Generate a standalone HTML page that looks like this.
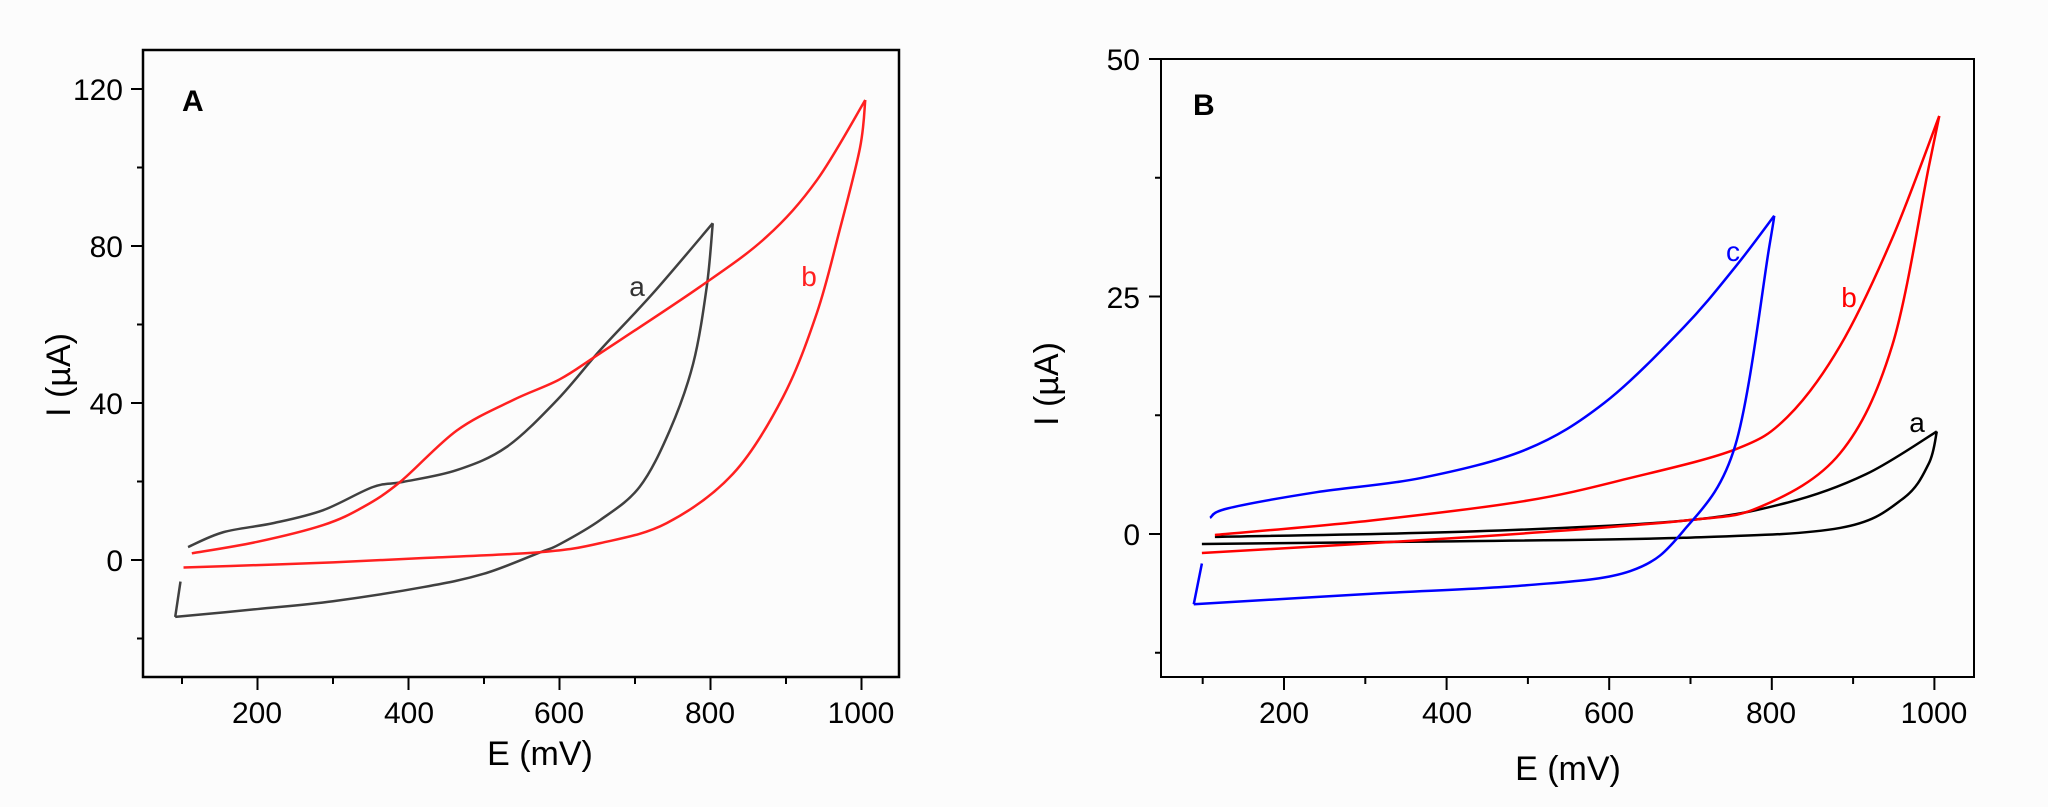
<!DOCTYPE html>
<html><head><meta charset="utf-8"><style>
html,body{margin:0;padding:0;background:#fcfcfc;}
svg{display:block;font-family:"Liberation Sans",Arial,sans-serif;}
</style></head><body>
<svg id="s" width="2048" height="807" viewBox="0 0 2048 807" xmlns="http://www.w3.org/2000/svg">
<rect width="2048" height="807" fill="#fcfcfc"/>
<g id="g"></g>
<rect x="143" y="50" width="756" height="627" fill="none" stroke="#000" stroke-width="2.5"/>
<rect x="1161" y="59" width="813" height="618" fill="none" stroke="#000" stroke-width="2"/>
<g font-size="30" fill="#000">
<text x="123" y="100" text-anchor="end">120</text>
<text x="123" y="257" text-anchor="end">80</text>
<text x="123" y="414" text-anchor="end">40</text>
<text x="123" y="571" text-anchor="end">0</text>
<text x="257" y="723" text-anchor="middle">200</text>
<text x="409" y="723" text-anchor="middle">400</text>
<text x="559" y="723" text-anchor="middle">600</text>
<text x="710" y="723" text-anchor="middle">800</text>
<text x="861" y="723" text-anchor="middle">1000</text>
<text x="1140" y="70" text-anchor="end">50</text>
<text x="1140" y="308" text-anchor="end">25</text>
<text x="1140" y="545" text-anchor="end">0</text>
<text x="1284" y="723" text-anchor="middle">200</text>
<text x="1447" y="723" text-anchor="middle">400</text>
<text x="1609" y="723" text-anchor="middle">600</text>
<text x="1771" y="723" text-anchor="middle">800</text>
<text x="1934" y="723" text-anchor="middle">1000</text>
</g>
<g font-size="34">
<text x="540" y="765" text-anchor="middle">E (mV)</text>
<text x="1568" y="780" text-anchor="middle">E (mV)</text>
<text transform="translate(70,375) rotate(-90)" text-anchor="middle">I (µA)</text>
<text transform="translate(1058,384) rotate(-90)" text-anchor="middle">I (µA)</text>
</g>
<g font-size="30" font-weight="bold">
<text x="182" y="111">A</text>
<text x="1193" y="115">B</text>
</g>
<g font-size="28">
<text x="637" y="296" text-anchor="middle" fill="#333">a</text>
<text x="809" y="286" text-anchor="middle" fill="#ff2020">b</text>
<text x="1733" y="261" text-anchor="middle" fill="#0000ff">c</text>
<text x="1849" y="307" text-anchor="middle" fill="#ff0000">b</text>
<text x="1917" y="432" text-anchor="middle" fill="#000">a</text>
</g>
</svg>
<script>
var NS="http://www.w3.org/2000/svg",g=document.getElementById("g");
function line(x1,y1,x2,y2,w){var l=document.createElementNS(NS,"line");l.setAttribute("x1",x1);l.setAttribute("y1",y1);l.setAttribute("x2",x2);l.setAttribute("y2",y2);l.setAttribute("stroke","#000");l.setAttribute("stroke-width",w||2);g.appendChild(l);}
var ax=function(E){return 106.5+0.755*E},ay=function(I){return 560-3.925*I};
for(var E=100;E<=1000;E+=100){var x=ax(E);line(x,677,x,677+(E%200==0?13:7));}
for(var I=-20;I<=120;I+=20){var y=ay(I);line(143,y,143-(I%40==0?12:6),y);}
var bx=function(E){return 1121.4+0.813*E},by=function(I){return 534-9.5*I};
for(var E=100;E<=1000;E+=100){var x=bx(E);line(x,677,x,677+(E%200==0?13:7));}
for(var I=-12.5;I<=50;I+=12.5){var y=by(I);line(1161,y,1161-(Math.abs(I%25)<0.01?12:6),y);}
function curve(pts,fx,fy,col,w){
 var p=pts.map(function(q){return [fx(q[0]),fy(q[1])]});
 var d="M"+p[0][0]+","+p[0][1];
 for(var i=0;i<p.length-1;i++){
  var p0=p[i-1]||p[i],p1=p[i],p2=p[i+1],p3=p[i+2]||p2;
  var t=1/6;
  d+=" C"+(p1[0]+(p2[0]-p0[0])*t)+","+(p1[1]+(p2[1]-p0[1])*t)+" "+(p2[0]-(p3[0]-p1[0])*t)+","+(p2[1]-(p3[1]-p1[1])*t)+" "+p2[0]+","+p2[1];
 }
 var e=document.createElementNS(NS,"path");e.setAttribute("d",d);e.setAttribute("fill","none");e.setAttribute("stroke",col);e.setAttribute("stroke-width",w||2.5);e.setAttribute("stroke-linejoin","round");g.appendChild(e);
}
// Panel A curve a
curve([[108,3.3],[155,7.1],[221,9.4],[287,12.7],[353,18.6],[393,19.9],[464,22.9],[530,28.8],[597,40.8],[654,53.5],[724,68],[803,85.8]],ax,ay,"#404040");
curve([[803,85.8],[795,69.6],[777,50],[746,33],[706,18.6],[654,10.2],[600,4],[575,2],[500,-3.5],[420,-6.9],[300,-10.5],[200,-12.5],[91,-14.5]],ax,ay,"#404040");
curve([[91,-14.5],[98,-5.5]],ax,ay,"#404040");
// Panel A curve b
curve([[113,1.7],[199,4.6],[287,8.9],[340,13.5],[389,19.9],[464,33],[539,40.8],[600,46],[654,52.7],[786,69.6],[874,82.3],[941,96.8],[1005,117.2]],ax,ay,"#ff2020");
curve([[1005,117.2],[998,105],[971,84],[941,63],[896,41.5],[830,22],[742,9.4],[654,4.3],[575,2],[420,0.5],[300,-0.6],[200,-1.3],[102,-1.9]],ax,ay,"#ff2020");
// Panel B curve a
curve([[115,-0.3],[433,0.27],[691,1.4],[819,3.3],[916,6.3],[1003,10.8]],bx,by,"#000",2.5);
curve([[1003,10.8],[993,7.4],[961,3.7],[884,0.64],[691,-0.4],[369,-0.8],[99,-1.05]],bx,by,"#000",2.5);
// Panel B curve b
curve([[115,-0.1],[305,1.4],[498,3.5],[626,5.9],[755,8.9],[819,12.3],[884,19.8],[948,31.1],[1006,44]],bx,by,"#ff0000",2.5);
curve([[1006,44],[993,38.6],[948,19.8],[884,8.5],[787,2.9],[691,1.4],[433,-0.3],[99,-2]],bx,by,"#ff0000",2.5);
// Panel B curve c
curve([[109,1.7],[131,2.7],[240,4.4],[369,5.9],[498,8.9],[594,13.8],[691,21.7],[755,28.1],[803,33.5]],bx,by,"#0000ff",2.5);
curve([[803,33.5],[797,30.3],[755,9.3],[691,0.3],[626,-3.9],[498,-5.4],[305,-6.3],[89,-7.4]],bx,by,"#0000ff",2.5);
curve([[89,-7.4],[99,-3.1]],bx,by,"#0000ff",2.5);
</script>
</body></html>
